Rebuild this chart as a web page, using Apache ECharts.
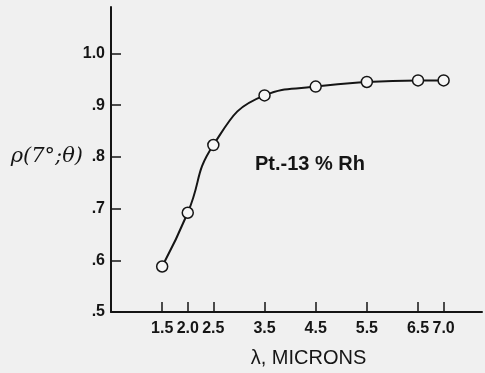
<!DOCTYPE html>
<html>
<head>
<meta charset="utf-8">
<script src="https://cdn.jsdelivr.net/npm/echarts@6/dist/echarts.min.js"></script>
<style>
html, body { margin: 0; padding: 0; background: #f0f0f0; }
#chart { width: 485px; height: 373px; }
</style>
</head>
<body>
<div id="chart"></div>
<script>
// wavelength (microns) and reflectance readings
var wavelengths = [1.5, 2.0, 2.5, 3.5, 4.5, 5.5, 6.5, 7.0];
var reflectance = [0.588, 0.692, 0.823, 0.919, 0.936, 0.945, 0.948, 0.948];
var xTicks = [1.5, 2.0, 2.5, 3.5, 4.5, 5.5, 6.5, 7.0];
var yTicks = [0.5, 0.6, 0.7, 0.8, 0.9, 1.0];

function indexConfig() {
	var myChart = echarts.init(document.getElementById('chart'));
	var ink = '#151515';
	var data = wavelengths.map(function(x, i) { return [x, reflectance[i]]; });

	var option = {
		backgroundColor: '#f0f0f0',
		animation: false,
		grid: { left: 111, top: 7, right: 3, bottom: 60 },
		xAxis: {
			type: 'value',
			min: 0.5,
			max: 7.75,
			name: 'λ, MICRONS',
			nameLocation: 'middle',
			nameGap: 36,
			nameTextStyle: { color: ink, fontSize: 20, fontFamily: 'Liberation Sans', padding: [0, 0, 0, 24] },
			axisLine: { lineStyle: { color: ink, width: 2 } },
			axisTick: { inside: true, length: 10, customValues: xTicks, lineStyle: { color: ink, width: 1.5 } },
			axisLabel: {
				customValues: xTicks,
				margin: 9,
				color: ink,
				fontSize: 16,
				fontWeight: 'bold',
				fontFamily: 'Liberation Sans',
				formatter: function(v) { return v.toFixed(1); }
			},
			splitLine: { show: false }
		},
		yAxis: {
			type: 'value',
			min: 0.5,
			max: 1.09,
			axisLine: { show: true, lineStyle: { color: ink, width: 2 } },
			axisTick: { show: true, inside: true, length: 10, customValues: yTicks, lineStyle: { color: ink, width: 1.5 } },
			axisLabel: {
				customValues: yTicks,
				margin: 6,
				color: ink,
				fontSize: 16,
				fontWeight: 'bold',
				fontFamily: 'Liberation Sans',
				formatter: function(v) {
					var s = v.toFixed(1);
					return s.charAt(0) === '0' ? s.substring(1) : s;
				}
			},
			splitLine: { show: false }
		},
		graphic: [{
			type: 'text',
			right: 485 - 83,
			top: 146,
			style: { text: 'ρ(7°;θ)', fill: ink, font: 'italic 21px "DejaVu Serif"' }
		}, {
			type: 'text',
			left: 255,
			top: 154,
			style: { text: 'Pt.-13 % Rh', fill: ink, font: 'bold 20px "Liberation Sans"' }
		}],
		series: [{
			type: 'line',
			data: data,
			smooth: 0.5,
			symbol: 'circle',
			symbolSize: 11,
			lineStyle: { color: ink, width: 2 },
			itemStyle: { color: '#f6f6f6', borderColor: ink, borderWidth: 1.5 },
			z: 3
		}]
	};
	myChart.setOption(option);
}

indexConfig();
</script>
</body>
</html>
